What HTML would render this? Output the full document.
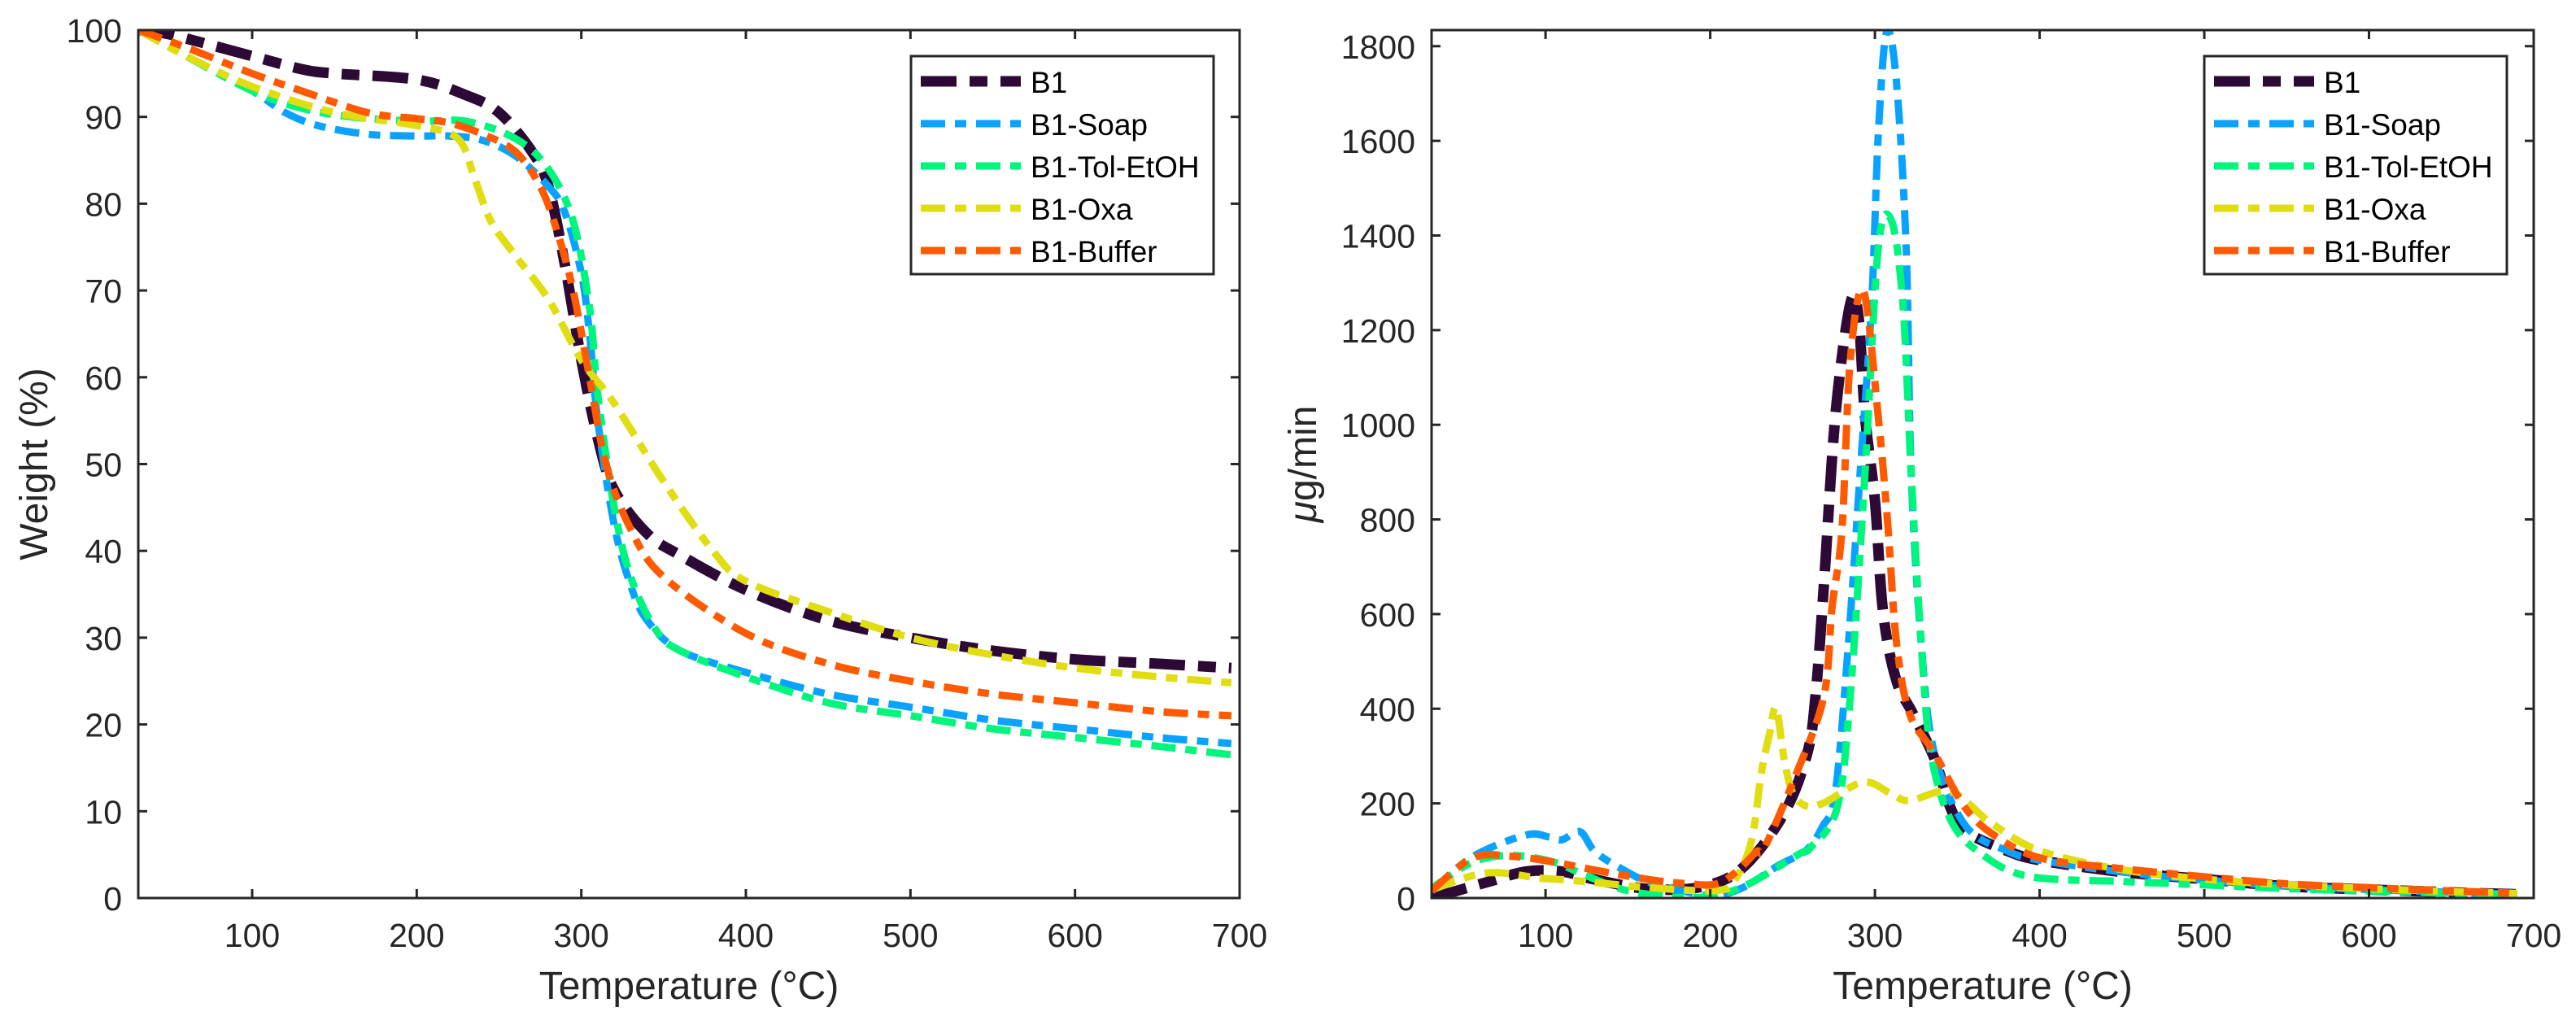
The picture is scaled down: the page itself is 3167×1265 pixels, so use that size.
<!DOCTYPE html>
<html><head><meta charset="utf-8">
<style>
html,body{margin:0;padding:0;background:#fff;}
svg{display:block;font-family:"Liberation Sans",Arial,sans-serif;}
</style></head>
<body>
<svg id="fig" width="3167" height="1265" viewBox="0 0 3167 1265" xmlns="http://www.w3.org/2000/svg">
<rect x="0" y="0" width="3167" height="1265" fill="#fff"/>
<g id="left"></g>
<g id="right"></g>
</svg>
<script>
// ---- data ----
const seriesNames = ["B1","B1-Soap","B1-Tol-EtOH","B1-Oxa","B1-Buffer"];
const xTicks = [100,200,300,400,500,600,700];
const yTicksLeft = [0,10,20,30,40,50,60,70,80,90,100];
const yTicksRight = [0,200,400,600,800,1000,1200,1400,1600,1800];

const tgaB1T = [31,50,100,130,150,200,230,250,270,280,290,300,310,320,340,360,400,450,500,550,600,650,695];
const tgaB1W = [100,99.5,97,95.5,95,94.3,92.5,90.5,86,82,73,62,53,47,42,39.5,35.5,32,30,28.5,27.5,27,26.5];
const tgaSoapT = [31,60,100,120,140,170,200,220,240,260,280,290,300,305,310,320,330,340,360,400,450,500,550,600,650,695];
const tgaSoapW = [100,97,93,90.5,89,88,87.8,87.8,87.3,85.5,82,79,72,65,55,43,36,32,28.5,26,23.5,22,20.5,19.5,18.5,17.8];
const tgaTolT = [31,60,100,130,160,200,230,260,280,295,305,310,320,330,345,360,400,450,500,550,600,650,695];
const tgaTolW = [100,97,93,91,90,89.5,89.5,87.5,84,78,68,58,45,37,31,28.5,25.5,22.5,21,19.5,18.5,17.5,16.5];
const tgaOxaT = [31,60,100,150,200,225,235,245,260,280,300,320,350,380,400,450,500,550,600,650,695];
const tgaOxaW = [100,97,93.5,90.5,89,87.5,83,78,74,69,62,57,48,40,36.5,33,30,28,26.5,25.5,24.8];
const tgaBufT = [31,60,100,130,170,200,220,240,260,275,285,295,305,315,330,350,400,450,500,550,600,650,695];
const tgaBufW = [100,98,95,93,90.5,89.8,89.3,88,86,82,77,70,60,50,42.5,37,30.5,27,25,23.5,22.5,21.5,21];

const dtgB1T = [31,64,88,110,130,163,195,220,245,259,264,269,276,285,290,294,300,305,313,323,336,346,355,380,400,450,500,550,600,650,690];
const dtgB1V = [0,33,56,56,39,19,24,65,180,307,430,660,1020,1255,1230,1018,840,603,460,390,296,190,141,100,80,55,40,25,18,12,8];
const dtgSoapT = [31,56,88,102,110,121,130,146,163,187,204,221,242,258,268,276,284,291,298,302,307,313,319,322,328,336,355,380,400,450,500,550,600,650,690];
const dtgSoapV = [15,88,133,129,123,140,98,62,33,12,5,24,70,100,150,225,543,899,1255,1610,1829,1727,1373,899,543,307,153,100,80,55,38,25,18,12,8];
const dtgTolT = [31,56,80,105,121,146,170,195,220,254,261,277,285,294,302,310,317,322,328,334,346,364,393,450,500,550,600,650,690];
const dtgTolV = [21,76,90,76,53,19,5,2,24,93,107,190,426,899,1373,1432,1255,899,543,307,165,95,46,35,28,20,15,10,7];
const dtgOxaT = [31,64,97,121,163,204,215,225,231,236,240,245,250,258,269,293,310,321,346,370,400,450,500,550,600,650,690];
const dtgOxaV = [18,53,42,36,22,16,39,120,264,347,402,291,223,195,201,245,220,206,225,160,100,60,40,28,20,14,10];
const dtgBufT = [31,56,80,105,130,163,187,204,217,228,233,252,269,274,280,285,293,302,308,313,321,336,355,374,402,450,500,550,600,650,690];
const dtgBufV = [16,85,88,76,59,39,30,30,59,98,107,260,426,615,780,1136,1284,1018,780,543,390,307,190,129,83,62,45,30,22,15,10];

// ---- styles ----
const colors = ["#2d0a36","#0aa2ff","#00f57c","#e0dd10","#ff5a00"];
const widths = [13,9,9,9,9];
const dashes = ["44,16,22,16","30,12,14,12","30,12,14,12","30,12,14,12","30,12,14,12"];

const NS="http://www.w3.org/2000/svg";
function mk(tag,attrs,parent){const e=document.createElementNS(NS,tag);for(const k in attrs)e.setAttribute(k,attrs[k]);parent.appendChild(e);return e;}

function smoothPath(pts){
  let d="M"+pts[0][0].toFixed(1)+","+pts[0][1].toFixed(1);
  for(let i=0;i<pts.length-1;i++){
    const p0=pts[i-1]||pts[i],p1=pts[i],p2=pts[i+1],p3=pts[i+2]||p2;
    const c1=[p1[0]+(p2[0]-p0[0])/6,p1[1]+(p2[1]-p0[1])/6];
    const c2=[p2[0]-(p3[0]-p1[0])/6,p2[1]-(p3[1]-p1[1])/6];
    d+=" C"+c1[0].toFixed(1)+","+c1[1].toFixed(1)+" "+c2[0].toFixed(1)+","+c2[1].toFixed(1)+" "+p2[0].toFixed(1)+","+p2[1].toFixed(1);
  }
  return d;
}

function drawChart(g,ax,ySpec,data,yTicks,yLabel,italicMu){
  const X=v=>ax.x0+(v-ax.xmin)/(ax.xmax-ax.xmin)*(ax.x1-ax.x0);
  const Y=v=>ax.y1-(v-ySpec.min)/(ySpec.max-ySpec.min)*(ax.y1-ax.y0);
  const clipId="clip"+g.id;
  const defs=mk("defs",{},g);
  const cp=mk("clipPath",{id:clipId},defs);
  mk("rect",{x:ax.x0,y:ax.y0,width:ax.x1-ax.x0,height:ax.y1-ax.y0},cp);
  const lines=mk("g",{"clip-path":"url(#"+clipId+")"},g);
  
  
  data.forEach((s,i)=>{
    const pts=s[0].map((t,j)=>[X(t),Y(s[1][j])]);
    const p=mk("path",{d:smoothPath(pts),fill:"none",stroke:colors[i],"stroke-width":widths[i],"stroke-dasharray":dashes[i]},lines);
    
    
  });
  const box=mk("rect",{x:ax.x0,y:ax.y0,width:ax.x1-ax.x0,height:ax.y1-ax.y0,fill:"none",stroke:"#262626","stroke-width":3},g);
  
  
  xTicks.forEach(t=>{
    const x=X(t);
    mk("line",{x1:x,y1:ax.y1,x2:x,y2:ax.y1-11,stroke:"#262626","stroke-width":3},g);
    mk("line",{x1:x,y1:ax.y0,x2:x,y2:ax.y0+11,stroke:"#262626","stroke-width":3},g);
    const tx=mk("text",{x:x,y:ax.y1+60,"font-size":41,"text-anchor":"middle",fill:"#262626"},g);
    tx.textContent=t;
    
    
  });
  yTicks.forEach(t=>{
    const y=Y(t);
    mk("line",{x1:ax.x0,y1:y,x2:ax.x0+11,y2:y,stroke:"#262626","stroke-width":3},g);
    mk("line",{x1:ax.x1,y1:y,x2:ax.x1-11,y2:y,stroke:"#262626","stroke-width":3},g);
    const ty=mk("text",{x:ax.x0-20,y:y+15,"font-size":41,"text-anchor":"end",fill:"#262626"},g);
    ty.textContent=t;
    
    
  });
  const xl=mk("text",{x:(ax.x0+ax.x1)/2,y:1228,"font-size":48,"text-anchor":"middle",fill:"#262626"},g);
  xl.textContent="Temperature (°C)";
  
  
  const yl=mk("text",{x:0,y:0,"font-size":48,"text-anchor":"middle",fill:"#262626",transform:"translate("+ax.ylabX+","+((ax.y0+ax.y1)/2)+") rotate(-90)"},g);
  if(italicMu){
    const m=mk("tspan",{"font-style":"italic"},yl);m.textContent="\u03bc";
    const r=mk("tspan",{},yl);r.textContent="g/min";
  } else yl.textContent=yLabel;
  
  
  const lg=mk("g",{},g);
  
  
  mk("rect",{x:ax.lx,y:69,width:372,height:268,fill:"#fff",stroke:"#262626","stroke-width":3},lg);
  seriesNames.forEach((n,i)=>{
    const yy=100+i*52;
    const e=mk("g",{},lg);
    
    
    mk("line",{x1:ax.lx+12,y1:yy,x2:ax.lx+135,y2:yy,stroke:colors[i],"stroke-width":widths[i],"stroke-dasharray":dashes[i]},e);
    const t=mk("text",{x:ax.lx+147,y:yy+14,"font-size":37,fill:"#000"},e);
    t.textContent=n;
  });
}

drawChart(document.getElementById("left"),
  {x0:170,x1:1524,y0:37,y1:1104,xmin:30.8,xmax:700,ylabX:58,lx:1120},
  {min:0,max:100},
  [[tgaB1T,tgaB1W],[tgaSoapT,tgaSoapW],[tgaTolT,tgaTolW],[tgaOxaT,tgaOxaW],[tgaBufT,tgaBufW]],
  yTicksLeft,"Weight (%)",false);
drawChart(document.getElementById("right"),
  {x0:1760,x1:3115,y0:37,y1:1104,xmin:30.8,xmax:700,ylabX:1618,lx:2710},
  {min:0,max:1834},
  [[dtgB1T,dtgB1V],[dtgSoapT,dtgSoapV],[dtgTolT,dtgTolV],[dtgOxaT,dtgOxaV],[dtgBufT,dtgBufV]],
  yTicksRight,"",true);
</script>
</body></html>
